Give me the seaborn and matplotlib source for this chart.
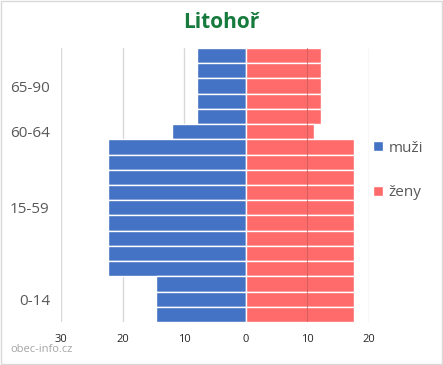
import pandas as pd
import matplotlib.pyplot as plt
import seaborn as sns
from matplotlib.patches import Patch, Rectangle

sns.set_style("white")
plt.rcParams['font.family'] = ['Open Sans', 'DejaVu Sans']

# data (top group first)
groups = ["65-90", "60-64", "15-59", "0-14"]
rows_per_group = [5, 1, 9, 3]
men = [8.0, 11.9, 22.3, 14.5]
women = [12.2, 11.0, 17.6, 17.6]
x_ticks = [-30, -20, -10, 0, 10, 20]

colors = {'muži': '#4472C4', 'ženy': '#FF6B6B'}

# one bar row per year band, men drawn to the left
records = []
row_ids = []
label_pos = []
i = 0
for g, n, m, w in zip(groups, rows_per_group, men, women):
    label_pos.append(i + (n - 1) / 2)
    for k in range(n):
        rid = f"{g}_{k}"
        row_ids.append(rid)
        records.append({'row': rid, 'sex': 'muži', 'value': -m})
        records.append({'row': rid, 'sex': 'ženy', 'value': w})
        i += 1
df = pd.DataFrame(records)

fig = plt.figure(figsize=(4.43, 3.65), dpi=100)
ax = fig.add_axes([61 / 443, 1 - 322 / 365, 308 / 443, 274 / 365])

sns.barplot(data=df, x='value', y='row', hue='sex', order=row_ids,
            hue_order=['muži', 'ženy'], palette=[colors['muži'], colors['ženy']],
            saturation=1, dodge=False, width=1.0, orient='h', edgecolor='white',
            linewidth=1, legend=False, ax=ax)

ax.set_xlim(-30, 20)
ax.set_ylim(len(row_ids) - 0.5, -0.5)
ax.xaxis.grid(True, color='#d9d9d9', lw=1)
ax.set_axisbelow(True)
ax.axvline(10, color='#c85a5a', lw=0.8, alpha=0.7, zorder=3)

ax.set_xticks(x_ticks)
ax.set_xticklabels([str(abs(t)) for t in x_ticks], fontsize=8, color='#262626')
ax.set_yticks(label_pos)
ax.set_yticklabels(groups, fontsize=11, color='#595959')
ax.tick_params(axis='x', length=0, pad=8.5)
ax.tick_params(axis='y', length=0, pad=8)
ax.set_xlabel("")
ax.set_ylabel("")
for s in ax.spines.values():
    s.set_visible(False)

fig.text(0.5, 1 - 22 / 365, "Litohoř", ha='center', va='center',
         fontsize=15, fontweight='bold', color='#157A3C')

handles = [Patch(facecolor=colors['muži'], label='muži'),
           Patch(facecolor=colors['ženy'], label='ženy')]
fig.legend(handles=handles, loc='center left', bbox_to_anchor=(373 / 443, 1 - 170.5 / 365),
           frameon=False, fontsize=11, labelcolor='#595959', handlelength=0.65,
           handleheight=0.65, handletextpad=0.35, labelspacing=1.95,
           borderpad=0, borderaxespad=0)

fig.text(10 / 443, 1 - 350 / 365, "obec-info.cz", fontsize=8, color='#a6a6a6',
         ha='left', va='center')

fig.patches.append(Rectangle((0.002, 0.003), 0.995, 0.994, transform=fig.transFigure,
                             fill=False, edgecolor='#d9d9d9', lw=1))

fig.savefig("out.png", dpi=100)
